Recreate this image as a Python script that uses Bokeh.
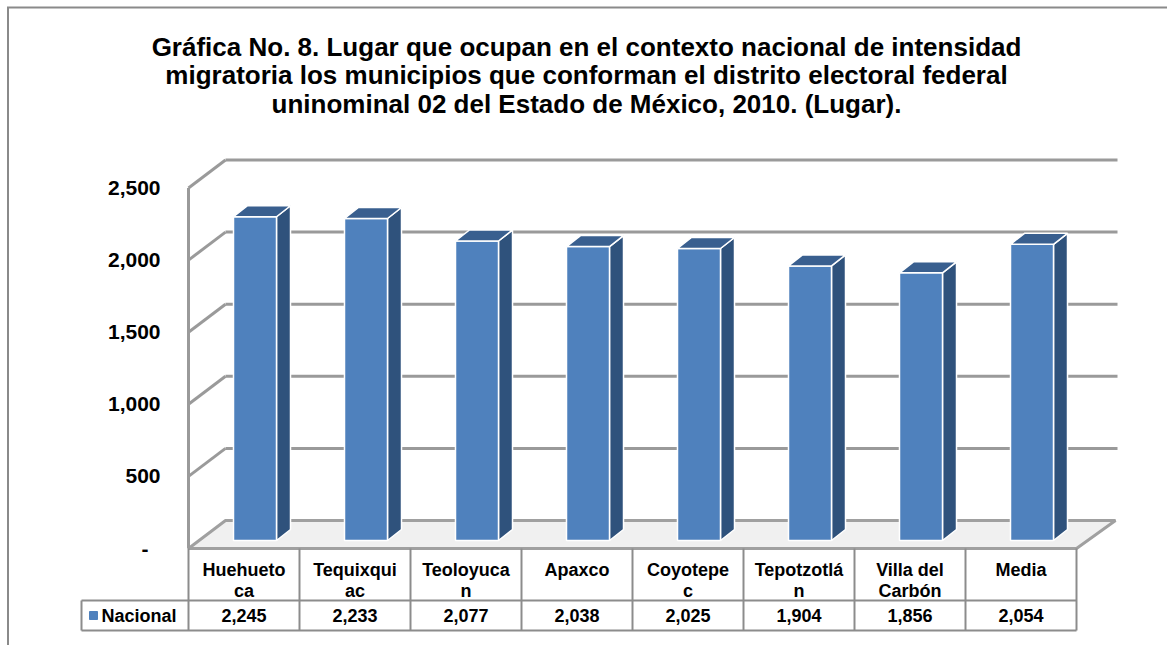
from bokeh.plotting import figure
from bokeh.models import Range1d, ColumnDataSource
from bokeh.embed import file_html
from bokeh.resources import INLINE
from bokeh.core.properties import value

# ---------------- data ----------------
title_lines = [
    "Gráfica No. 8. Lugar que ocupan en el contexto nacional de intensidad",
    "migratoria los municipios que conforman el distrito electoral federal",
    "uninominal 02 del Estado de México, 2010. (Lugar).",
]
categories = ["Huehueto\nca", "Tequixqui\nac", "Teoloyuca\nn", "Apaxco",
              "Coyotepe\nc", "Tepotzotlá\nn", "Villa del\nCarbón", "Media"]
series_name = "Nacional"
values = [2245, 2233, 2077, 2038, 2025, 1904, 1856, 2054]
y_ticks = [0, 500, 1000, 1500, 2000, 2500]
y_tick_labels = ["-", "500", "1,000", "1,500", "2,000", "2,500"]

# ---------------- layout helpers ----------------
COLW = 111.0      # px per category column
K = 0.1442        # px per value unit
X0, Y0 = 188, 548  # pixel of the chart origin (front plane)
W, H = 1167, 645
FONT = value("Liberation Sans")


def U(px):  # pixel x -> data x
    return (px - X0) / COLW


def V(py):  # pixel y -> data y
    return (Y0 - py) / K


def DX(n):
    return n / COLW


def DY(n):
    return n / K


n = len(values)
ymax = y_ticks[-1]
WDX, WDY = 37, 28   # wall depth in px

p = figure(width=W, height=H, x_range=Range1d(U(0), U(W)),
           y_range=Range1d(V(H), V(0)), output_backend="svg",
           toolbar_location=None, min_border=0,
           x_axis_location=None, y_axis_location=None)
p.grid.visible = False
p.outline_line_color = None
p.background_fill_color = "white"
p.border_fill_color = "white"

GRID = "#9a9a9a"

# frame border (left and top visible)
p.line([U(7.5), U(7.5)], [V(6.5), V(H)], line_color="#8a8a8a", line_width=2)
p.line([U(6.5), U(W)], [V(7), V(7)], line_color="#8a8a8a", line_width=2)

# floor
p.patch([0, n, n + DX(WDX + 2), DX(WDX)], [0, 0, DY(WDY), DY(WDY)],
        fill_color="#f0f0f0", line_color="#a0a0a0", line_width=3)

# back wall and side wall grid lines
gx, gy = [], []
for t in y_ticks[1:]:
    gx.append([DX(WDX), n + DX(WDX + 4)])
    gy.append([t + DY(WDY), t + DY(WDY)])
    gx.append([0, DX(WDX)])
    gy.append([t, t + DY(WDY)])
gx.append([0, 0])
gy.append([0, ymax])
p.multi_line(gx, gy, line_color=GRID, line_width=3)

# 3D bars
BOFF, BW, BBASE, BDX, BDY = 45, 43, 8, 14, 11
fx, fy, sx, sy, tx, ty = [], [], [], [], [], []
for i, v in enumerate(values):
    x0 = i + DX(BOFF)
    x1 = x0 + DX(BW)
    y0 = DY(BBASE)
    y1 = y0 + v
    fx.append([x0, x1, x1, x0]); fy.append([y0, y0, y1, y1])
    sx.append([x1, x1 + DX(BDX), x1 + DX(BDX), x1])
    sy.append([y0, y0 + DY(BDY), y1 + DY(BDY), y1])
    tx.append([x0, x1, x1 + DX(BDX), x0 + DX(BDX)])
    ty.append([y1, y1, y1 + DY(BDY), y1 + DY(BDY)])
p.patches(sx, sy, fill_color="#2f527c", line_color="white", line_width=1.5)
p.patches(fx, fy, fill_color="#4f81bd", line_color="white", line_width=1.5)
p.patches(tx, ty, fill_color="#395f8f", line_color="white", line_width=1.5)

# y tick labels
tick_src = ColumnDataSource(dict(
    x=[U(160)] * len(y_ticks), y=y_ticks, text=y_tick_labels,
    xo=[-12 if t == 0 else 0 for t in y_ticks]))
p.text(x="x", y="y", text="text", x_offset="xo", source=tick_src,
       text_font=FONT, text_font_style="bold", text_font_size="21px",
       text_align="right", text_baseline="middle", text_color="black")

# data table
TL = "#8c8c8c"
lx, ly = [], []
lx.append([U(81), n]); ly.append([V(600), V(600)])
lx.append([U(81), n]); ly.append([V(630), V(630)])
for i in range(n + 1):
    lx.append([i, i]); ly.append([V(548), V(630)])
lx.append([U(81), U(81)]); ly.append([V(600), V(630)])
p.multi_line(lx, ly, line_color=TL, line_width=2)

line1 = [c.split("\n")[0] for c in categories]
line2 = [c.split("\n")[1] if "\n" in c else "" for c in categories]
cx = [i + 0.5 for i in range(n)]
p.text(x=cx, y=[V(569.5)] * n, text=line1, text_font=FONT, text_font_style="bold",
       text_font_size="18px", text_align="center", text_baseline="middle",
       text_color="black")
p.text(x=cx, y=[V(590.5)] * n, text=line2, text_font=FONT, text_font_style="bold",
       text_font_size="18px", text_align="center", text_baseline="middle",
       text_color="black")
p.text(x=cx, y=[V(615)] * n, text=[f"{v:,}" for v in values], text_font=FONT,
       text_font_style="bold", text_font_size="18px", text_align="center",
       text_baseline="middle", text_color="black")

# legend key in table
p.scatter([U(93)], [V(615)], marker="square", size=8, fill_color="#4f81bd",
          line_color="#4f81bd")
p.text(x=[U(101)], y=[V(615)], text=[series_name], text_font=FONT,
       text_font_style="bold", text_font_size="18px", text_align="left",
       text_baseline="middle", text_color="black")

# title
p.text(x=[U(586)] * 3, y=[V(46), V(74.5), V(103)], text=title_lines, text_font=FONT,
       text_font_style="bold", text_font_size="26px", text_align="center",
       text_baseline="middle", text_color="black")

open("out.html", "w").write(file_html(p, INLINE))
